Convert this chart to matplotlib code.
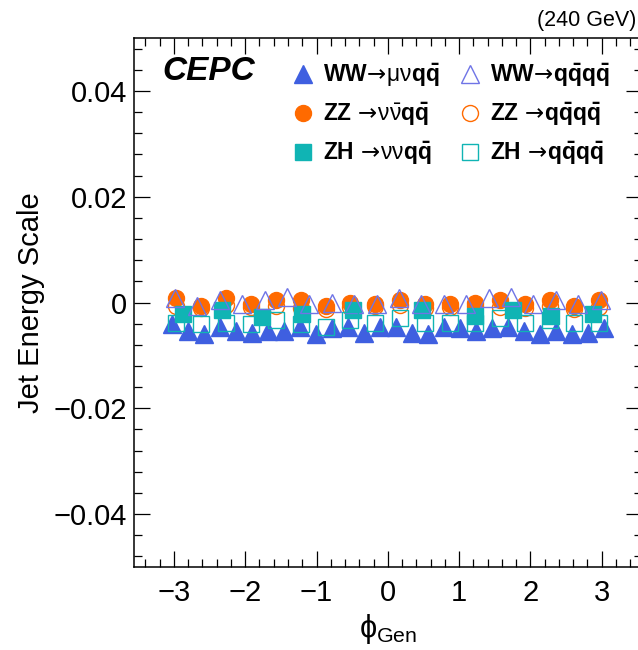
import numpy as np
import matplotlib
matplotlib.use("Agg")
import matplotlib.pyplot as plt
from matplotlib.ticker import MultipleLocator

plt.rcParams['font.family'] = ['Liberation Sans', 'DejaVu Sans']
plt.rcParams['mathtext.fontset'] = 'custom'
plt.rcParams['mathtext.rm'] = 'Liberation Sans'
plt.rcParams['mathtext.bf'] = 'Liberation Sans:bold'
plt.rcParams['mathtext.it'] = 'Liberation Sans:italic'
plt.rcParams['mathtext.sf'] = 'DejaVu Sans'

# jet energy scale per phi bin, one list per process
ww_munu_jes = [-0.0040, -0.0053, -0.0059, -0.0047, -0.0053, -0.0057, -0.0053,
               -0.0053, -0.0047, -0.0059, -0.0049, -0.0047, -0.0057, -0.0047,
               -0.0047, -0.0057, -0.0059, -0.0047, -0.0049, -0.0053, -0.0049,
               -0.0047, -0.0053, -0.0059, -0.0053, -0.0059, -0.0057, -0.0049]
ww_4q_jes = [0.0008, -0.0006, 0.0004, -0.0002, 0.0004, 0.0010, -0.0002,
             0.0000, -0.0002, -0.0002, 0.0008, -0.0002, -0.0002, -0.0002,
             0.0008, 0.0010, -0.0002, 0.0004, -0.0002, 0.0004]
zz_nunu_jes = [0.0008, -0.0006, 0.0008, -0.0002, 0.0004, 0.0004, -0.0006,
               0.0000, -0.0002, 0.0004, -0.0002, -0.0002, 0.0000, 0.0004,
               -0.0002, 0.0004, -0.0006, 0.0004]
zz_4q_jes = [-0.0006, -0.0010, -0.0004, -0.0008, -0.0006, -0.0010, -0.0012,
             -0.0008, -0.0006, -0.0004, -0.0010, -0.0008, -0.0006, -0.0008,
             -0.0010, -0.0006, -0.0012, -0.0008]
zh_nunu_phi = [-2.87, -2.33, -1.77, -1.20, -0.49, 0.48, 1.22, 1.76, 2.29, 2.88]
zh_nunu_jes = [-0.0021, -0.0015, -0.0028, -0.0021, -0.0015, -0.0015, -0.0025,
               -0.0015, -0.0025, -0.0021]
zh_4q_jes = [-0.0038, -0.0040, -0.0038, -0.0040, -0.0034, -0.0040, -0.0047,
             -0.0034, -0.0038, -0.0030, -0.0038, -0.0038, -0.0038, -0.0030,
             -0.0038, -0.0034, -0.0038, -0.0038]

ARROW = r'\!\mathsf{\rightarrow}\!'
labels = {
    'ww_munu': r'$\mathbf{WW}' + ARROW + r'\mathrm{\mu\nu}\mathbf{q\bar{q}}$',
    'zz_nunu': r'$\mathbf{ZZ}\ ' + ARROW + r'\mathrm{\nu\bar{\nu}}\mathbf{q\bar{q}}$',
    'zh_nunu': r'$\mathbf{ZH}\ ' + ARROW + r'\mathrm{\nu\nu}\mathbf{q\bar{q}}$',
    'ww_4q': r'$\mathbf{WW}' + ARROW + r'\mathbf{q\bar{q}q\bar{q}}$',
    'zz_4q': r'$\mathbf{ZZ}\ ' + ARROW + r'\mathbf{q\bar{q}q\bar{q}}$',
    'zh_4q': r'$\mathbf{ZH}\ ' + ARROW + r'\mathbf{q\bar{q}q\bar{q}}$',
}

BLUE = '#3f5fe0'
LIGHT_BLUE = '#6f74e6'
ORANGE = '#ff6a00'
TEAL = '#10b4b4'


def bin_centers(n):
    edges = np.linspace(-np.pi, np.pi, n + 1)
    return 0.5 * (edges[:-1] + edges[1:])


fig = plt.figure(figsize=(6.38, 6.5), dpi=100)
ax = fig.add_axes([0.21, 0.1277, 0.7957, 0.8138])

h1, = ax.plot(bin_centers(len(ww_munu_jes)), ww_munu_jes, ls='none', marker='^',
              ms=12.5, color=BLUE, mec=BLUE, label=labels['ww_munu'])
h2, = ax.plot(bin_centers(len(zz_nunu_jes)), zz_nunu_jes, ls='none', marker='o',
              ms=11.5, color=ORANGE, mec=ORANGE, label=labels['zz_nunu'])
h5, = ax.plot(bin_centers(len(zz_4q_jes)), zz_4q_jes, ls='none', marker='o',
              ms=11.5, mfc='none', mec=ORANGE, mew=1.0, label=labels['zz_4q'])
h3, = ax.plot(zh_nunu_phi, zh_nunu_jes, ls='none', marker='s',
              ms=11, color=TEAL, mec=TEAL, label=labels['zh_nunu'])
h4, = ax.plot(bin_centers(len(ww_4q_jes)), ww_4q_jes, ls='none', marker='^',
              ms=12.5, mfc='none', mec=LIGHT_BLUE, mew=1.0, label=labels['ww_4q'])
h6, = ax.plot(bin_centers(len(zh_4q_jes)), zh_4q_jes, ls='none', marker='s',
              ms=11, mfc='none', mec=TEAL, mew=1.0, label=labels['zh_4q'])

ax.set_xlim(-3.56, 3.56)
ax.set_ylim(-0.05, 0.05)
ax.xaxis.set_major_locator(MultipleLocator(1))
ax.xaxis.set_minor_locator(MultipleLocator(0.2))
ax.yaxis.set_major_locator(MultipleLocator(0.02))
ax.yaxis.set_minor_locator(MultipleLocator(0.004))
ax.yaxis.set_major_formatter(plt.FuncFormatter(
    lambda v, p: '0' if abs(v) < 1e-9 else ('%.2f' % v).replace('-', '\u2212')))

ax.tick_params(which='both', direction='in', top=True, right=True, width=0.9,
               labelsize=21)
ax.tick_params(which='major', length=11.5)
ax.tick_params(which='minor', length=6)
ax.tick_params(axis='x', pad=9)
ax.tick_params(axis='y', pad=5)
for s in ax.spines.values():
    s.set_linewidth(1.1)

ax.set_ylabel('Jet Energy Scale', fontsize=21)
ax.yaxis.set_label_coords(-0.175, 0.5)
ax.set_xlabel(r'$\mathrm{\phi}_{\mathrm{Gen}}$', fontsize=22)
ax.xaxis.set_label_coords(0.5, -0.085)

ax.text(0.055, 0.936, 'CEPC', transform=ax.transAxes, fontsize=24,
        fontweight='bold', fontstyle='italic', va='center', ha='left')
fig.text(0.998, 0.969, '(240 GeV)', fontsize=15.5, ha='right', va='center')

ax.legend(handles=[h1, h2, h3, h4, h5, h6], ncol=2, loc='upper left',
          bbox_to_anchor=(0.310, 0.954), frameon=False, fontsize=16.5,
          handlelength=1.0, handletextpad=0.37, columnspacing=0.85,
          labelspacing=0.5, borderpad=0, borderaxespad=0)

fig.savefig('out.png', dpi=100)
